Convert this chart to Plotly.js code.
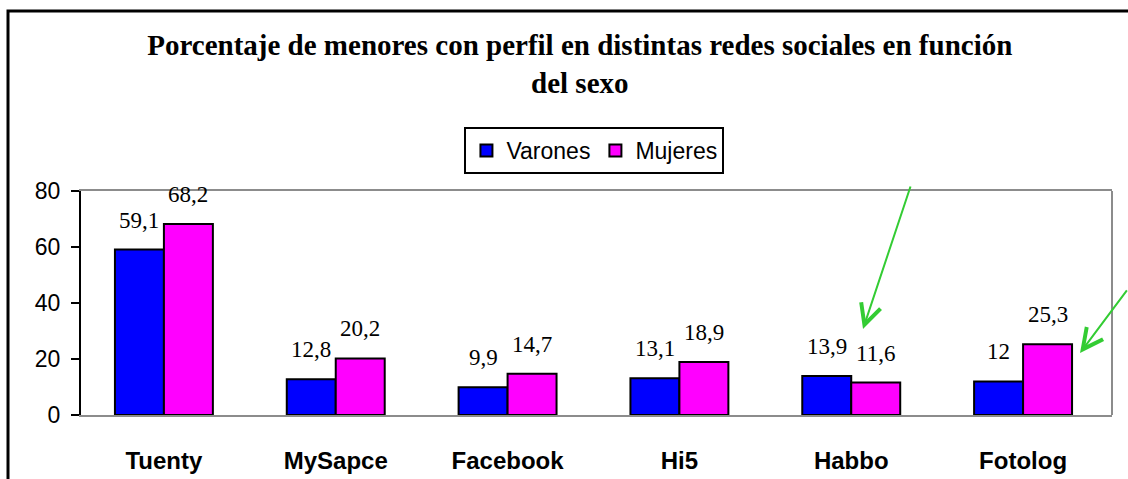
<!DOCTYPE html>
<html>
<head>
<meta charset="utf-8">
<script src="https://cdn.plot.ly/plotly-3.0.1.min.js"></script>
<style>html,body{margin:0;padding:0;background:#fff;}#chart{width:1128px;height:479px;}</style>
</head>
<body>
<div id="chart"></div>
<script>
const categories = ["Tuenty", "MySapce", "Facebook", "Hi5", "Habbo", "Fotolog"];
const varones = [59.1, 12.8, 9.9, 13.1, 13.9, 12];
const mujeres = [68.2, 20.2, 14.7, 18.9, 11.6, 25.3];
const seriesNames = ["Varones", "Mujeres"];
const titleText = "Porcentaje de menores con perfil en distintas redes sociales en función<br>del sexo";

const fmt = v => String(v).replace('.', ',');

const traces = [
  {type: 'bar', name: seriesNames[0], x: categories, y: varones,
   marker: {color: '#0000ff', line: {color: '#000', width: 2}}, hoverinfo: 'none'},
  {type: 'bar', name: seriesNames[1], x: categories, y: mujeres,
   marker: {color: '#ff00ff', line: {color: '#000', width: 2}}, hoverinfo: 'none'}
];

const labelFont = {family: 'Liberation Serif, Times New Roman, serif', size: 23, color: '#000'};
const annotations = [];
categories.forEach((c, i) => {
  annotations.push({x: c, y: varones[i], xref: 'x', yref: 'y', text: fmt(varones[i]), showarrow: false,
    xshift: -24.5, yshift: 15, yanchor: 'bottom', xanchor: 'center', font: labelFont});
  annotations.push({x: c, y: mujeres[i], xref: 'x', yref: 'y', text: fmt(mujeres[i]), showarrow: false,
    xshift: 24.5, yshift: 15, yanchor: 'bottom', xanchor: 'center', font: labelFont});
});
// green hand-drawn style arrows
annotations.push({xref: 'paper', yref: 'paper', x: 0.7585, y: 0.384, ax: 48, ay: -144, text: '',
  showarrow: true, arrowhead: 5, arrowsize: 2, arrowwidth: 2, arrowcolor: '#33cc33'});
annotations.push({xref: 'paper', yref: 'paper', x: 0.969, y: 0.277, ax: 62, ay: -64, text: '',
  showarrow: true, arrowhead: 5, arrowsize: 2, arrowwidth: 2, arrowcolor: '#33cc33'});

const layout = {
  width: 1128, height: 479,
  margin: {l: 81, r: 16, t: 191, b: 64},
  paper_bgcolor: '#fff', plot_bgcolor: '#fff',
  showlegend: true,
  barmode: 'group', bargap: 0.43, bargroupgap: 0,
  title: {text: titleText, x: 0.514, xanchor: 'center', xref: 'container', y: 1 - 55/479, yanchor: 'top',
    font: {family: 'Liberation Serif, Times New Roman, serif', size: 29, color: '#000', weight: 'bold'}},
  legend: {orientation: 'h', x: 0.498, xanchor: 'center', y: 1.286, yanchor: 'top',
    bordercolor: '#000', borderwidth: 2, bgcolor: '#fff',
    font: {family: 'Liberation Sans, Arial, sans-serif', size: 23, color: '#000'}},
  xaxis: {range: [-0.4825, 5.5175], showline: true, linecolor: '#8c8c8c', linewidth: 2, mirror: true, showgrid: false,
    ticks: '', ticklabelstandoff: 23, zeroline: false,
    tickfont: {family: 'Liberation Sans, Arial, sans-serif', size: 24, color: '#000', weight: 'bold'}},
  yaxis: {range: [0, 80], dtick: 20, showgrid: false, zeroline: false, showline: true, linecolor: '#000', linewidth: 2,
    ticks: 'outside', ticklen: 8, tickwidth: 2, tickcolor: '#000', ticklabelstandoff: 6,
    tickfont: {family: 'Liberation Sans, Arial, sans-serif', size: 23, color: '#000'}},
  shapes: [
    {type: 'line', xref: 'paper', yref: 'paper', x0: 1, x1: 1, y0: 0, y1: 1, line: {color: '#8c8c8c', width: 2}},
    {type: 'rect', xref: 'paper', yref: 'paper', x0: -0.0708, x1: 1.06, y0: -0.4, y1: 1.8036,
      line: {color: '#000', width: 3}, layer: 'below'}
  ],
  annotations: annotations
};

Plotly.newPlot('chart', traces, layout, {displayModeBar: false, staticPlot: true});
</script>
</body>
</html>
